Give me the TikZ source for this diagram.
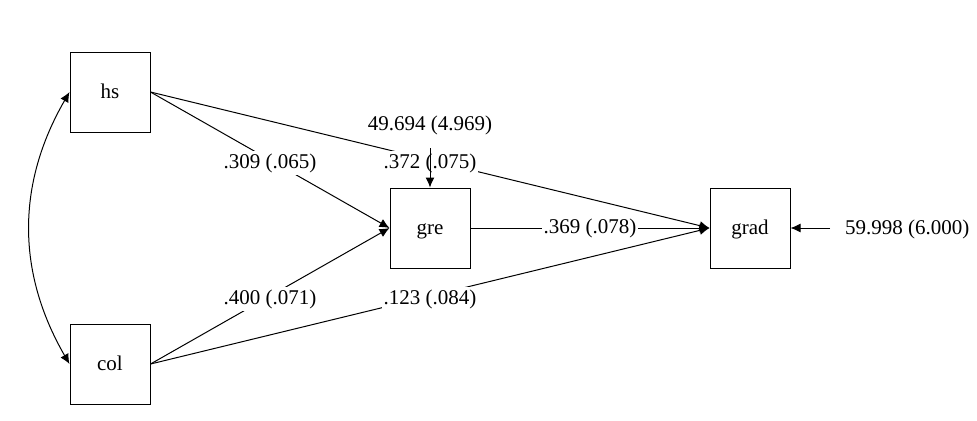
\documentclass[tikz,border=0pt]{standalone}
\usepackage{fontspec}
\setmainfont{Liberation Serif}
\usetikzlibrary{positioning,arrows.meta}

\tikzset{
    var/.style={draw, line width=0.5pt, minimum size=40pt, inner sep=0pt, text depth=0pt, text height=6pt},
    path/.style={line width=0.5pt, -{Latex[length=5pt,width=4.5pt]}},
    est/.style={fill=white, inner sep=1pt, yshift=-1.5pt},
}

\begin{document}
\begin{tikzpicture}[x=0.5pt, y=-0.5pt, font=\fontsize{10.5}{12}\selectfont]
    \useasboundingbox (0,0) rectangle (977,420);

    % Observed variables
    \node[var] (hs) at (110,92) {hs};
    \node[var] (col) at (110,364) {col};
    \node[var] (gre) at (430,228) {gre};
    \node[var] (grad) at (750,228) {grad};

    % Paths
    \draw[path] (hs.east) -- node[est] {.309 (.065)} (gre.west);
    \draw[path] (col.east) -- node[est] {.400 (.071)} (gre.west);
    \draw[path] (hs.east) -- node[est] {.372 (.075)} (grad.west);
    \draw[path] (col.east) -- node[est] {.123 (.084)} (grad.west);
    \draw[path] (gre.east) -- node[est, yshift=1.5pt] {.369 (.078)} (grad.west);

    % Residual variances
    \node (egre) at (430,125) {49.694 (4.969)};
    \coordinate (egretop) at (430,148);
    \draw[path] (egretop) -- (gre.north);
    \node[anchor=west] (egrad) at (838,229) {59.998 (6.000)};
    \coordinate (egradend) at (830,228);
    \draw[path] (egradend) -- (grad.east);

    % Covariance
    \draw[path, {Latex[length=5pt,width=4.5pt]}-{Latex[length=5pt,width=4.5pt]}] (col.west) to[bend left=30] (hs.west);
\end{tikzpicture}
\end{document}
